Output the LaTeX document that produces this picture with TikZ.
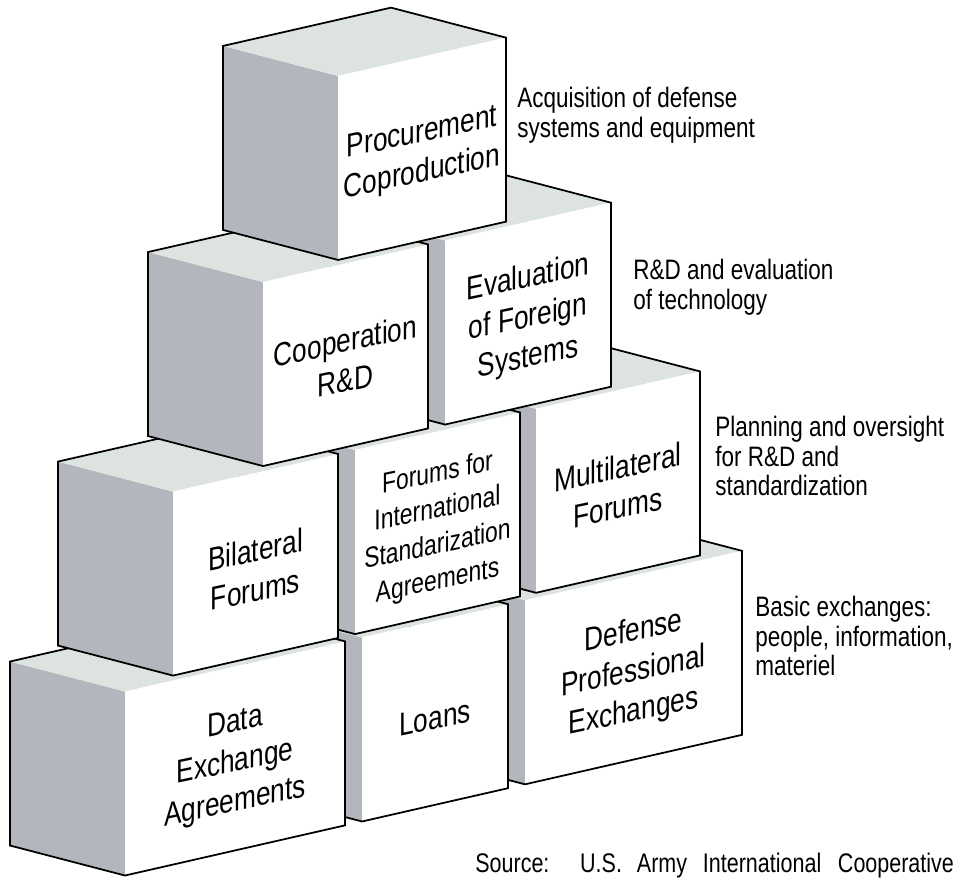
\documentclass[tikz,border=0pt]{standalone}
\usepackage{fontspec}
\setmainfont{Liberation Sans}[FakeStretch=0.8]
\usetikzlibrary{calc}

\definecolor{sideface}{RGB}{179,183,189}
\definecolor{lidface}{RGB}{221,228,224}

\tikzset{
  leftface/.style={fill=sideface},
  topface/.style={fill=lidface},
  frontface/.style={fill=white},
  outline/.style={draw=black, line width=1pt, line join=miter},
  boxlabel/.style={font=\fontsize{18.7}{22.7}\selectfont, align=center, inner sep=0pt, yslant=0.21},
  smalllabel/.style={boxlabel, font=\fontsize{16.3}{20.4}\selectfont},
  sidelabel/.style={font=\fontsize{16}{16.8}\selectfont, align=left, anchor=north west, inner sep=0pt},
}

% #1 label style, #2 name, #3 front left x, #4 front width, #5 row base, #6 text
\newcommand{\brick}[6][boxlabel]{%
  \path ({#3},{#5-0.228*#3}) coordinate (#2-fbl)
    ++(0,-184) coordinate (#2-ftl)
    ++(-115,-30) coordinate (#2-btl)
    ++(0,184) coordinate (#2-bbl);
  \path (#2-fbl) ++({#4},{-0.228*#4}) coordinate (#2-fbr)
    ++(0,-184) coordinate (#2-ftr)
    ++(-115,-30) coordinate (#2-btr);
  \fill[leftface] (#2-fbl) -- (#2-ftl) -- (#2-btl) -- (#2-bbl) -- cycle;
  \fill[topface] (#2-ftl) -- (#2-ftr) -- (#2-btr) -- (#2-btl) -- cycle;
  \fill[frontface] (#2-fbl) -- (#2-fbr) -- (#2-ftr) -- (#2-ftl) -- cycle;
  \draw[outline] (#2-fbl) -- (#2-fbr) -- (#2-ftr) -- (#2-btr) -- (#2-btl) -- (#2-bbl) -- cycle;
  \node[#1] (#2) at ($(#2-fbl)!0.5!(#2-ftr)+(0,5)$) {#6};
}

\begin{document}
\begin{tikzpicture}[x=0.02cm, y=-0.02cm]
\useasboundingbox (0,0) rectangle (959,877);

% bottom row, right to left
\brick{defense}{525}{217}{904}{Defense\\Professional\\Exchanges}
\brick{loans}{362}{146}{904}{Loans}
\brick{data}{125}{220}{904}{Data\\Exchange\\Agreements}

% third row
\brick{multi}{536}{164}{715}{Multilateral\\Forums}
\brick[smalllabel]{forums}{355}{165}{715}{Forums for\\International\\Standarization\\Agreements}
\brick{bilateral}{173}{165}{715}{Bilateral\\Forums}

% second row
\brick{evaluation}{445}{166}{526}{Evaluation\\of Foreign\\Systems}
\brick{coop}{263}{165}{526}{Cooperation\\R\&D}

% top
\brick{procure}{338}{168}{337}{Procurement\\Coproduction}

% levels
\node[sidelabel] (acq) at (517,87) {Acquisition of defense\\systems and equipment};
\node[sidelabel] (rnd) at (633,259) {R\&D and evaluation\\of technology};
\node[sidelabel] (plan) at (715,416) {Planning and oversight\\for R\&D and\\standardization};
\node[sidelabel] (basic) at (755,596) {Basic exchanges:\\people, information,\\materiel};

\node[font=\fontsize{15.3}{16}\selectfont, anchor=base west, inner sep=0pt] (source) at (475,872)
  {Source:\hspace{17.5pt}U.S.\hspace{8.5pt}Army\hspace{9pt}International\hspace{9.5pt}Cooperative};
\end{tikzpicture}
\end{document}
